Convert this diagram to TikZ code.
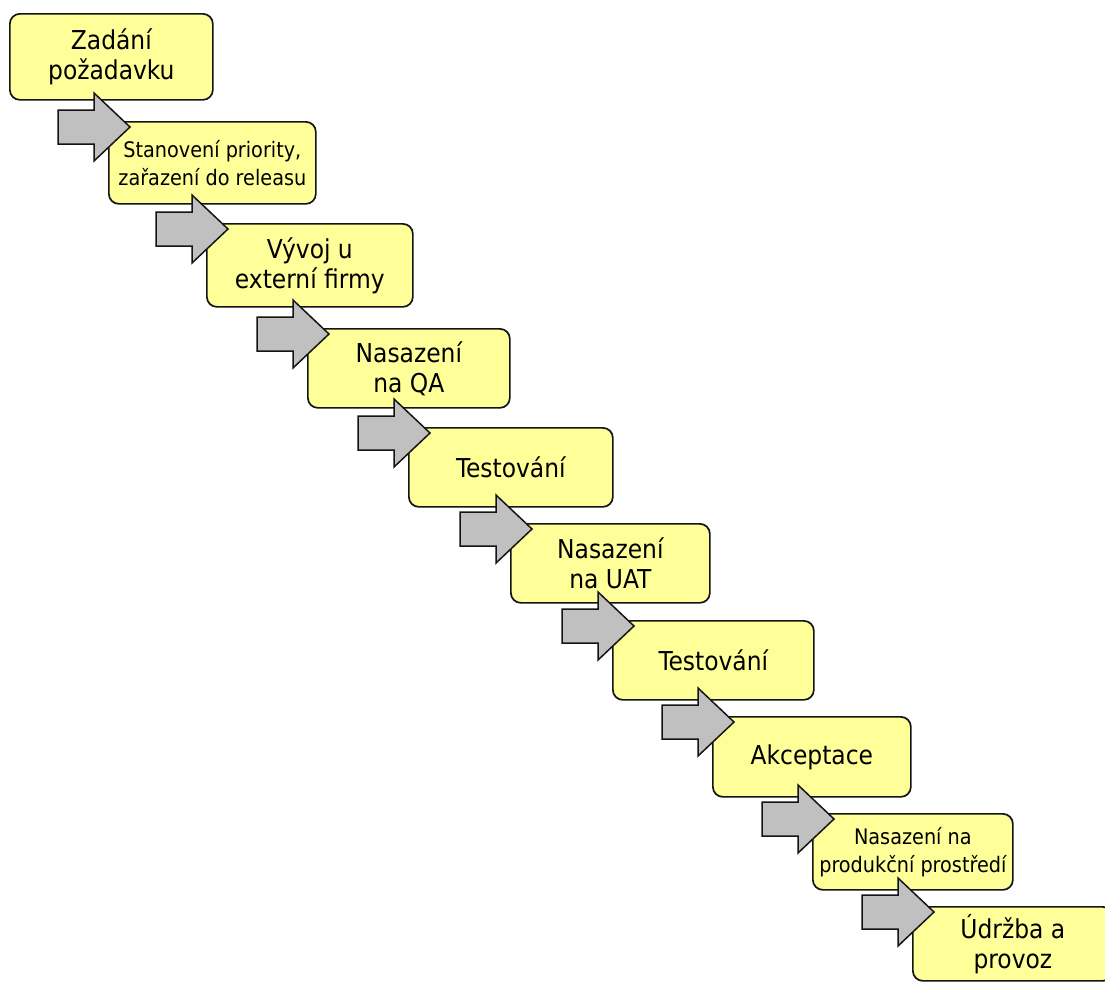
\documentclass[tikz,border=0pt]{standalone}
\usepackage{fontspec}
\setmainfont{DejaVu Sans Condensed}
\definecolor{stagefill}{HTML}{FFFF99}
\definecolor{arrowgray}{HTML}{C0C0C0}
\definecolor{edge}{HTML}{141414}
% block arrow pointing into the top-left corner of the given stage
\newcommand\stagearrow[1]{%
  \draw[flow, shift={(#1.north west)}]
    (-50,-11) -- (-14,-11) -- (-14,-28) -- (22,6) -- (-14,40)
    -- (-14,23) -- (-50,23) -- cycle;}
\begin{document}
\begin{tikzpicture}[x=1pt,y=-1pt,
  stage/.style={draw=edge, line width=1.7pt, fill=stagefill,
    rounded corners=10pt, anchor=north west, align=center, inner sep=0pt},
  big/.style={font=\fontsize{26}{30}\selectfont},
  small/.style={font=\fontsize{21.4}{28}\selectfont},
  flow/.style={draw=edge, line width=1.5pt, fill=arrowgray, line join=miter}]
\useasboundingbox (0,0) rectangle (1105,983);

% stages of the request workflow
\node[stage, big, minimum width=203pt, minimum height=86pt] (b1) at (9,13)
  {Zadání\\požadavku};
\node[stage, small, minimum width=207pt, minimum height=82pt] (b2) at (108,121)
  {Stanovení priority,\\zařazení do releasu};
\node[stage, big, minimum width=206pt, minimum height=83pt] (b3) at (206,223)
  {Vývoj u\\externí firmy};
\node[stage, big, minimum width=202pt, minimum height=79pt] (b4) at (307,328)
  {Nasazení\\na QA};
\node[stage, big, minimum width=204pt, minimum height=79pt] (b5) at (408,427)
  {Testování};
\node[stage, big, minimum width=199pt, minimum height=79pt] (b6) at (510,523)
  {Nasazení\\na UAT};
\node[stage, big, minimum width=201pt, minimum height=79pt] (b7) at (612,620)
  {Testování};
\node[stage, big, minimum width=198pt, minimum height=80pt] (b8) at (712,716)
  {Akceptace};
\node[stage, small, minimum width=200pt, minimum height=76pt] (b9) at (812,813)
  {Nasazení na\\produkční prostředí};
\node[stage, big, minimum width=200pt, minimum height=74pt] (b10) at (912,906)
  {Údržba a\\provoz};

% arrows between consecutive stages, drawn on top
\foreach \n in {b2,b3,b4,b5,b6,b7,b8,b9,b10}{\stagearrow{\n}}
\end{tikzpicture}
\end{document}
